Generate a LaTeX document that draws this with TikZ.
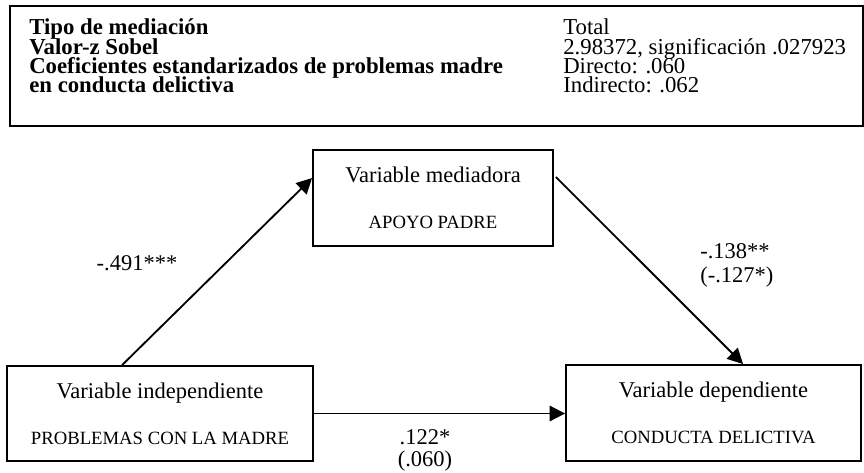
\documentclass[tikz,border=0pt]{standalone}
\usepackage{fontspec}
\setmainfont{Liberation Serif}
\usetikzlibrary{arrows.meta}
\tikzset{
  caja/.style={draw, line width=1.3pt, inner sep=0pt, align=center, font=\fontsize{16}{19}\selectfont},
  coef/.style={align=left, inner sep=0pt, font=\fontsize{16}{17}\selectfont},
  flecha/.style={->, line width=1.3pt}
}
\newcommand{\mayus}[1]{{\fontsize{13.3}{15}\selectfont #1}}
\newcommand{\fila}[2]{\smash{\textbf{#1}} & \smash{#2}\\}

\begin{document}
\begin{tikzpicture}[>={Triangle[length=11pt,width=11pt]}]
\useasboundingbox (0,0) rectangle (21.6,11.8);
% cuadro de resumen
\node[draw, line width=1.3pt, minimum width=21.325cm, minimum height=3cm, anchor=north west] (cuadro) at (0.225,11.675) {};
\node[anchor=base west, inner sep=0pt, font=\fontsize{16.2}{13.7}\selectfont] (tabla) at (0.725,10.925)
  {\begin{tabular}[t]{@{}p{13.35cm}@{}l@{}}
   \fila{Tipo de mediación}{Total}
   \fila{Valor-z Sobel}{2.98372, significación .027923}
   \fila{Coeficientes estandarizados de problemas madre}{Directo: .060}
   \fila{en conducta delictiva}{Indirecto: .062}
  \end{tabular}};

% variables
\node[caja, minimum width=6cm, minimum height=2.4cm] (mediadora) at (10.825,6.85) {Variable mediadora\\[14pt]\mayus{APOYO PADRE}};
\node[caja, minimum width=7.65cm, minimum height=2.375cm] (indep) at (4.0,1.4625) {Variable independiente\\[14pt]\mayus{PROBLEMAS CON LA MADRE}};
\node[caja, minimum width=7.375cm, minimum height=2.4cm] (dep) at (17.8375,1.475) {Variable dependiente\\[14pt]\mayus{CONDUCTA DELICTIVA}};

% caminos
\draw[flecha] ([xshift=2.9cm]indep.north west) -- ([yshift=0.5cm]mediadora.west);
\draw[flecha] ([xshift=0.05cm,yshift=0.525cm]mediadora.east) -- ([xshift=4.45cm]dep.north west);
\draw[flecha] (indep.east) -- (indep.east -| dep.west);

% coeficientes
\node[coef, anchor=base] (ca) at (3.425,5.05) {-.491***};
\node[coef, anchor=base west] (cb) at (17.5,4.75) {-.138**\\(-.127*)};
\node[coef, align=center, anchor=base] (cc) at (10.625,0.15) {.122*\\[-1.5pt](.060)};
\end{tikzpicture}
\end{document}
